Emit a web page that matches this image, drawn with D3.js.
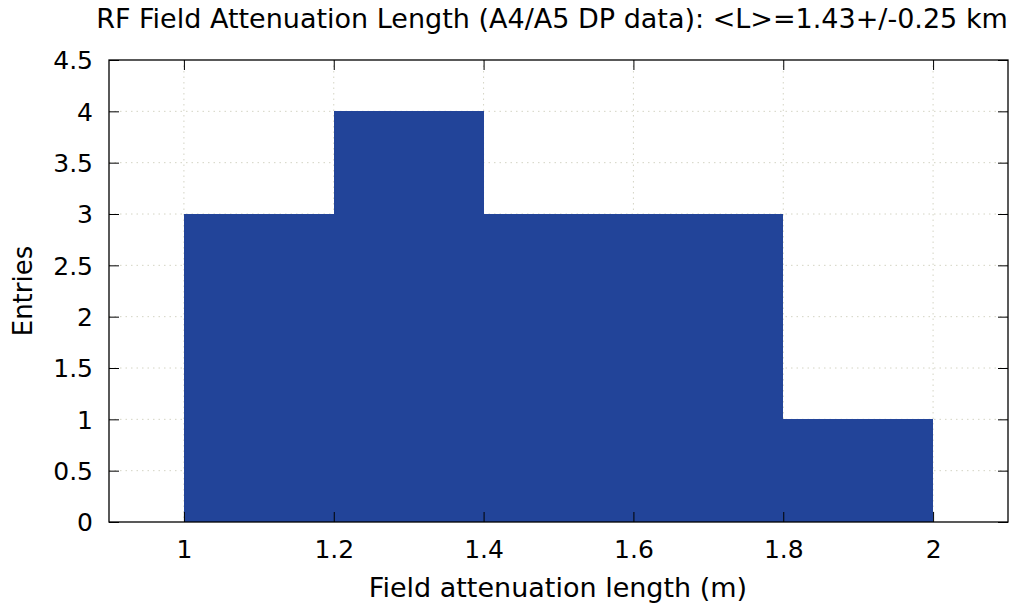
<!DOCTYPE html>
<html><head><meta charset="utf-8">
<script src="https://cdn.jsdelivr.net/npm/d3@7"></script>
<style>body{margin:0;background:#fff}svg{display:block}text{font-family:"DejaVu Sans",sans-serif;fill:#000}</style>
</head><body>
<svg id="c" width="1024" height="608"></svg>
<script>
const binStarts = [1.0, 1.2, 1.4, 1.6, 1.8];
const binEnds = [1.2, 1.4, 1.6, 1.8, 2.0];
const counts = [3, 4, 3, 3, 1];
const xTicks = [1, 1.2, 1.4, 1.6, 1.8, 2];
const yTicks = [0, 0.5, 1, 1.5, 2, 2.5, 3, 3.5, 4, 4.5];
const titleText = "RF Field Attenuation Length (A4/A5 DP data): <L>=1.43+/-0.25 km";
const xLabel = "Field attenuation length (m)";
const yLabel = "Entries";

const svg = d3.select("#c");
const L = 109, R = 1008, T = 60, B = 522;
const x = d3.scaleLinear().domain([0.9, 2.1]).range([L, R]);
const y = d3.scaleLinear().domain([0, 4.5]).range([B, T]);
const fsTick = 25, fsLab = 27;

// grid
const g = svg.append("g");
g.selectAll(".gx").data(xTicks).join("line")
  .attr("x1", d => x(d)).attr("x2", d => x(d)).attr("y1", T).attr("y2", B)
  .attr("stroke", "#d4d4c4").attr("stroke-width", 1).attr("stroke-dasharray", "1.5,4");
g.selectAll(".gy").data(yTicks.slice(1, -1)).join("line")
  .attr("x1", L).attr("x2", R).attr("y1", d => y(d)).attr("y2", d => y(d))
  .attr("stroke", "#d4d4c4").attr("stroke-width", 1).attr("stroke-dasharray", "1.5,4");

// bars
const data = counts.map((c, i) => ({a: binStarts[i], b: binEnds[i], c}));
svg.append("g").attr("shape-rendering", "crispEdges").selectAll("rect").data(data).join("rect")
  .attr("x", d => x(d.a)).attr("width", d => x(d.b) - x(d.a))
  .attr("y", d => y(d.c)).attr("height", d => y(0) - y(d.c))
  .attr("fill", "#224499");

// axes with inward ticks and mirror
const tl = 10;
const ax = svg.append("g").attr("transform", `translate(0,${B})`)
  .call(d3.axisBottom(x).tickValues(xTicks).tickFormat(d3.format("")).tickSize(-tl));
const axT = svg.append("g").attr("transform", `translate(0,${T})`)
  .call(d3.axisTop(x).tickValues(xTicks).tickFormat("").tickSize(-tl));
const ay = svg.append("g").attr("transform", `translate(${L},0)`)
  .call(d3.axisLeft(y).tickValues(yTicks).tickFormat(d3.format("")).tickSize(-tl).tickPadding(16));
const ayR = svg.append("g").attr("transform", `translate(${R},0)`)
  .call(d3.axisRight(y).tickValues(yTicks).tickFormat("").tickSize(-tl));
[ax, axT, ay, ayR].forEach(a => {
  a.select(".domain").remove();
  a.selectAll(".tick line").attr("stroke", "#000").attr("stroke-width", 1);
  a.selectAll("text").style("font-size", fsTick + "px").attr("fill", "#000").style("font-family", '"DejaVu Sans",sans-serif');
});
ax.selectAll(".tick text").attr("y", 36).attr("dy", 0);
ay.selectAll(".tick text").attr("dy", "0.35em");
svg.append("rect").attr("x", L).attr("y", T).attr("width", R - L).attr("height", B - T)
  .attr("fill", "none").attr("stroke", "#000").attr("stroke-width", 1.3);

svg.append("text").attr("x", 552).attr("y", 28).attr("text-anchor", "middle")
  .style("font-size", fsLab + "px").text(titleText);
svg.append("text").attr("x", 558).attr("y", 597).attr("text-anchor", "middle")
  .style("font-size", fsLab + "px").text(xLabel);
svg.append("text").attr("transform", `translate(32,${(T + B) / 2}) rotate(-90)`).attr("text-anchor", "middle")
  .style("font-size", "26px").text(yLabel);
</script>
</body></html>
